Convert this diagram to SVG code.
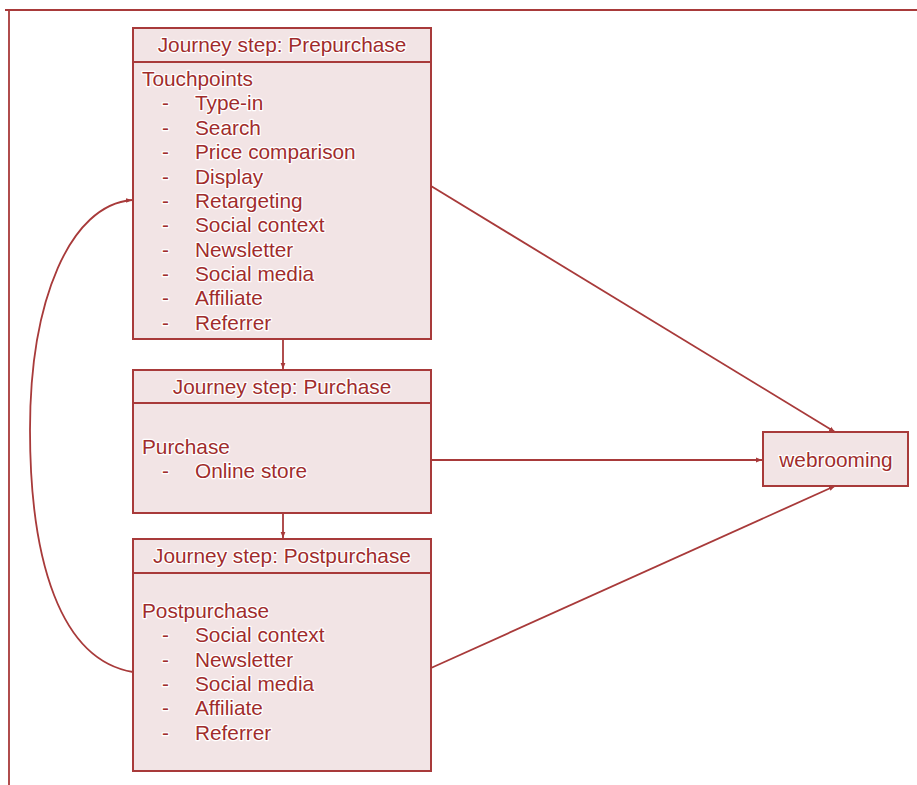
<svg xmlns="http://www.w3.org/2000/svg" width="917" height="785" viewBox="0 0 917 785">
<style>
.box{fill:#f2e4e5;stroke:#a83a3a;stroke-width:2}
.ln{fill:none;stroke:#a83a3a;stroke-width:1.8}
text{font-family:"Liberation Sans",Arial,sans-serif;font-size:20.8px;fill:#a02c2c;stroke:#ffffff;stroke-width:2.5;paint-order:stroke;stroke-linejoin:round}
.h{text-anchor:middle}
</style>
<defs>
<marker id="ah" viewBox="0 0 10 10" refX="10" refY="5" markerWidth="6" markerHeight="6" orient="auto" markerUnits="userSpaceOnUse">
<path d="M0,1 L10,5 L0,9 z" fill="#a83a3a"/>
</marker>
</defs>
<g id="frame">
<path class="ln" d="M5,10 H917 M9,10 V785"/>
</g>
<g id="connectors">
<path class="ln" d="M283,339 V369" marker-end="url(#ah)"/>
<path class="ln" d="M283,513 V538" marker-end="url(#ah)"/>
<path class="ln" d="M431,186 L835,432" marker-end="url(#ah)"/>
<path class="ln" d="M431,460 L762,460" marker-end="url(#ah)"/>
<path class="ln" d="M431,668 L835,486" marker-end="url(#ah)"/>
<path class="ln" d="M133,672 C60,660 30,560 30,430 C30,300 70,205 132,200" marker-end="url(#ah)"/>
</g>
<g id="prepurchase">
<rect class="box" x="133" y="28" width="298" height="311"/>
<path class="ln" d="M133,62 H431"/>
<text class="h" x="282" y="52">Journey step: Prepurchase</text>
<text x="142" y="86">Touchpoints</text>
<g>
<text x="162" y="110">-</text><text x="195" y="110">Type-in</text>
<text x="162" y="135">-</text><text x="195" y="135">Search</text>
<text x="162" y="159">-</text><text x="195" y="159">Price comparison</text>
<text x="162" y="184">-</text><text x="195" y="184">Display</text>
<text x="162" y="208">-</text><text x="195" y="208">Retargeting</text>
<text x="162" y="232">-</text><text x="195" y="232">Social context</text>
<text x="162" y="257">-</text><text x="195" y="257">Newsletter</text>
<text x="162" y="281">-</text><text x="195" y="281">Social media</text>
<text x="162" y="305">-</text><text x="195" y="305">Affiliate</text>
<text x="162" y="330">-</text><text x="195" y="330">Referrer</text>
</g>
</g>
<g id="purchase">
<rect class="box" x="133" y="370" width="298" height="143"/>
<path class="ln" d="M133,403 H431"/>
<text class="h" x="282" y="394">Journey step: Purchase</text>
<text x="142" y="454">Purchase</text>
<text x="162" y="478">-</text><text x="195" y="478">Online store</text>
</g>
<g id="postpurchase">
<rect class="box" x="133" y="539" width="298" height="232"/>
<path class="ln" d="M133,573 H431"/>
<text class="h" x="282" y="563">Journey step: Postpurchase</text>
<text x="142" y="618">Postpurchase</text>
<text x="162" y="642">-</text><text x="195" y="642">Social context</text>
<text x="162" y="667">-</text><text x="195" y="667">Newsletter</text>
<text x="162" y="691">-</text><text x="195" y="691">Social media</text>
<text x="162" y="715">-</text><text x="195" y="715">Affiliate</text>
<text x="162" y="740">-</text><text x="195" y="740">Referrer</text>
</g>
<g id="webrooming">
<rect class="box" x="763" y="432" width="145" height="54"/>
<text class="h" x="836" y="467">webrooming</text>
</g>
</svg>
